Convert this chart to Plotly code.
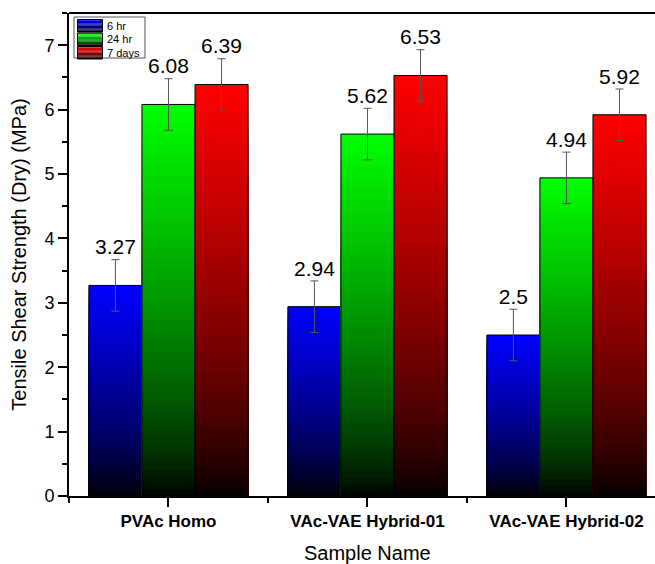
import plotly.graph_objects as go

categories = ["PVAc Homo", "VAc-VAE Hybrid-01", "VAc-VAE Hybrid-02"]
series_names = ["6 hr", "24 hr", "7 days"]
values_6hr = [3.27, 2.94, 2.50]
values_24hr = [6.08, 5.62, 4.94]
values_7days = [6.39, 6.53, 5.92]
errors_6hr = [0.4, 0.4, 0.4]
errors_24hr = [0.4, 0.4, 0.4]
errors_7days = [0.4, 0.4, 0.4]
y_tick_vals = [0, 1, 2, 3, 4, 5, 6, 7]

series_values = [values_6hr, values_24hr, values_7days]
series_errors = [errors_6hr, errors_24hr, errors_7days]
base_colors = [(0, 0, 255), (0, 255, 0), (255, 0, 0)]

FONT = "Liberation Sans, Arial, sans-serif"
N_SEG = 60
BAR_W = 0.8 / 3
x_idx = list(range(len(categories)))

W, H = 655, 564
ML, MR, MT, MB = 69, 0, 13, 68
PW, PH = W - ML - MR, H - MT - MB


def grad(col, f):
    b = max(f, 0) ** 0.75
    return "rgb(%d,%d,%d)" % tuple(int(round(v * b)) for v in col)


def px_x(p):
    return (p - ML) / PW


def px_y(p):
    return 1 - (p - MT) / PH


fig = go.Figure()

for s, (name, vals, errs, col) in enumerate(zip(series_names, series_values, series_errors, base_colors)):
    offset = -0.4 + s * BAR_W
    # gradient fill: overlapping bars from tallest (bright) to shortest (dark)
    for k in range(N_SEG):
        frac = 1 - k / N_SEG
        fig.add_trace(go.Bar(
            x=x_idx, y=[v * frac for v in vals], width=BAR_W, offset=offset,
            marker=dict(color=grad(col, frac - 0.5 / N_SEG), line=dict(width=0)),
            showlegend=False, name=name, hoverinfo="skip",
        ))
    # outline + error bars
    fig.add_trace(go.Bar(
        x=x_idx, y=vals, width=BAR_W, offset=offset,
        marker=dict(color="rgba(0,0,0,0)", line=dict(color="black", width=1)),
        error_y=dict(type="data", array=errs, visible=True, color="#555555", thickness=1, width=4),
        showlegend=False, name=name,
    ))
    # value labels
    fig.add_trace(go.Scatter(
        x=[i + offset + BAR_W / 2 for i in x_idx],
        y=[v + e for v, e in zip(vals, errs)],
        mode="text", text=[("%g" % v) for v in vals], textposition="top center",
        textfont=dict(family=FONT, size=21, color="black"),
        showlegend=False, hoverinfo="skip",
    ))

# manual legend (compact, gradient swatches)
shapes = [dict(type="line", xref="paper", yref="paper", x0=0, x1=1, y0=1, y1=1,
               line=dict(color="black", width=2))]
annotations = []
shapes.append(dict(type="rect", xref="paper", yref="paper",
                   x0=px_x(74), x1=px_x(145), y0=px_y(58), y1=px_y(17),
                   fillcolor="white", line=dict(color="#555555", width=1), layer="above"))
row_tops = [19.5, 33, 46.5]
SW_H = 12.5
NB = 10
for s, (name, col) in enumerate(zip(series_names, base_colors)):
    top = row_tops[s]
    for j in range(NB):
        y_a = top + SW_H * j / NB
        y_b = top + SW_H * (j + 1) / NB
        shapes.append(dict(type="rect", xref="paper", yref="paper",
                           x0=px_x(77.5), x1=px_x(102.5), y0=px_y(y_b), y1=px_y(y_a),
                           fillcolor=grad(col, 1 - (j + 0.5) / NB), line=dict(width=0), layer="above"))
    shapes.append(dict(type="rect", xref="paper", yref="paper",
                       x0=px_x(77.5), x1=px_x(102.5), y0=px_y(top + SW_H), y1=px_y(top),
                       fillcolor="rgba(0,0,0,0)", line=dict(color="black", width=1), layer="above"))
    annotations.append(dict(text=name, xref="paper", yref="paper", x=px_x(105), y=px_y(top + SW_H / 2),
                            xanchor="left", yanchor="middle", showarrow=False,
                            font=dict(family=FONT, size=11, color="black")))

annotations.append(dict(text="Sample Name", xref="x", x=1, yref="paper", y=0, yanchor="top",
                        yshift=-44, showarrow=False, font=dict(family=FONT, size=20, color="black")))

fig.update_layout(
    width=W, height=H,
    margin=dict(l=ML, r=MR, t=MT, b=MB),
    barmode="overlay",
    plot_bgcolor="white", paper_bgcolor="white",
    font=dict(family=FONT, color="black"),
    showlegend=False,
    xaxis=dict(
        range=[-0.5, 2.445], tickvals=x_idx, ticktext=categories,
        tickfont=dict(family=FONT, size=17, color="black", weight="bold"),
        ticks="outside", ticklen=9, tickwidth=1.5, tickcolor="black",
        minor=dict(dtick=0.5, tick0=0.5, ticks="outside", ticklen=5, tickwidth=1.5, tickcolor="black"),
        showline=True, linecolor="black", linewidth=2,
        showgrid=False, zeroline=False, automargin=False,
    ),
    yaxis=dict(
        range=[0, 7.5], tickvals=y_tick_vals,
        tickfont=dict(family=FONT, size=18, color="black"),
        ticks="outside", ticklen=9, tickwidth=1.5, tickcolor="black",
        minor=dict(dtick=0.5, tick0=0, ticks="outside", ticklen=5, tickwidth=1.5, tickcolor="black"),
        showline=True, linecolor="black", linewidth=2,
        showgrid=False, zeroline=False, automargin=False,
        title=dict(text="Tensile Shear Strength (Dry) (MPa)", font=dict(family=FONT, size=20, color="black"), standoff=12),
    ),
    shapes=shapes,
    annotations=annotations,
)

fig.write_html("out.html", config={"displayModeBar": False},
               post_script="document.body.style.margin='0';document.body.style.overflow='hidden';")
